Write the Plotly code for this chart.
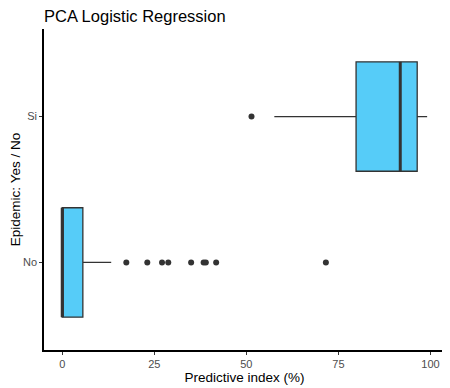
import plotly.graph_objects as go

categories = ["No", "Si"]
cat_pos = [1, 2]
q1 = [0.0, 79.8]
median = [0.0, 91.8]
q3 = [5.6, 96.4]
lower = [0.0, 57.6]
upper = [13.3, 99.1]
outliers_no = [17.4, 23.1, 27.1, 28.8, 35.0, 38.4, 39.0, 41.8, 71.6]
outliers_si = [51.4]
xticks = [0, 25, 50, 75, 100]

fill = "#56CCF8"
dark = "#333333"
bw = 0.75

fig = go.Figure()
for i, c in enumerate(categories):
    fig.add_trace(go.Box(
        orientation="h", y=[cat_pos[i]], q1=[q1[i]], median=[median[i]], q3=[q3[i]],
        lowerfence=[lower[i]], upperfence=[upper[i]],
        width=bw, fillcolor=fill, line=dict(color=dark, width=1.3),
        whiskerwidth=0, boxpoints=False, showlegend=False, hoverinfo="skip"))
    fig.add_trace(go.Scatter(
        x=[median[i], median[i]], y=[cat_pos[i] - bw / 2, cat_pos[i] + bw / 2],
        mode="lines", line=dict(color=dark, width=3), showlegend=False, hoverinfo="skip"))

for pos, vals in zip(cat_pos, [outliers_no, outliers_si]):
    fig.add_trace(go.Scatter(
        x=vals, y=[pos] * len(vals), mode="markers",
        marker=dict(color=dark, size=6), showlegend=False))

# page body has an 8px default margin; size the figure to fill the rest
fig.update_layout(
    width=442, height=380,
    margin=dict(l=36, r=5, t=21, b=38, autoexpand=False),
    paper_bgcolor="white", plot_bgcolor="white",
    font=dict(family="Liberation Sans, Arial, sans-serif"),
    title=dict(text="PCA Logistic Regression", x=0, xref="paper", xanchor="left",
               y=1, yref="paper", yanchor="bottom", pad=dict(b=7, l=0),
               font=dict(size=16.5, color="black")),
)
fig.update_xaxes(
    range=[-4.95, 103.95], tickvals=xticks, ticktext=[str(v) for v in xticks],
    showgrid=False, zeroline=False, showline=True, linecolor="black", linewidth=1.5,
    ticks="outside", ticklen=3, tickcolor=dark, tickfont=dict(size=11, color="#4D4D4D"),
    title=dict(text="Predictive index (%)", font=dict(size=13.5, color="black"), standoff=2))
fig.update_yaxes(
    range=[0.4, 2.6], tickvals=cat_pos, ticktext=categories,
    showgrid=False, zeroline=False, showline=True, linecolor="black", linewidth=1.5,
    ticks="outside", ticklen=3, tickcolor=dark, tickfont=dict(size=11, color="#4D4D4D"),
    title=dict(text="Epidemic: Yes / No", font=dict(size=13.5, color="black"), standoff=4))

fig.write_html("out.html")
